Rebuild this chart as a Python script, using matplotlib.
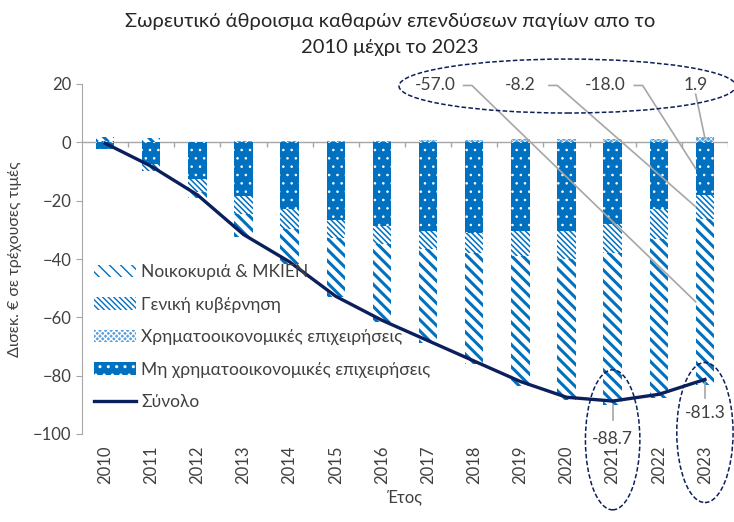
import matplotlib
matplotlib.use('Agg')
import matplotlib.pyplot as plt
import numpy as np
from matplotlib.patches import Ellipse

plt.rcParams['font.family'] = ['Lato', 'DejaVu Sans']

years = [str(y) for y in range(2010, 2024)]
households = [1.4, 1.4, -2.2, -7.6, -12.0, -20.4, -26.6, -32.3, -38.0, -44.4, -48.5, -51.9, -54.5, -57.0]
government = [0.3, -2.4, -4.3, -6.3, -7.0, -6.2, -6.4, -6.0, -7.0, -8.5, -9.5, -10.0, -10.0, -8.2]
financial = [0.2, 0.1, 0.2, 0.5, 0.5, 0.5, 0.6, 0.7, 0.9, 1.2, 1.2, 1.2, 1.2, 1.9]
nonfinancial = [-2.2, -7.3, -12.6, -18.4, -22.7, -26.5, -28.6, -30.4, -31.0, -30.5, -30.5, -28.0, -23.0, -18.0]
total = [-0.3, -8.2, -18.0, -31.6, -41.0, -52.8, -61.0, -68.0, -75.0, -82.0, -87.4, -88.7, -86.4, -81.3]

labels = ['Νοικοκυριά & ΜΚΙΕΝ', 'Γενική κυβέρνηση', 'Χρηματοοικονομικές επιχειρήσεις',
          'Μη χρηματοοικονομικές επιχειρήσεις', 'Σύνολο']

BLUE = '#0070C0'
NAVY = '#0B1F5C'
GRAY = '#A6A6A6'
TXT = '#404040'

fig = plt.figure(figsize=(7.34, 5.22), dpi=100)
ax = fig.add_axes([82/734, 1-434/522, (728-82)/734, (434-84)/522])

x = np.arange(len(years))
w = 0.4

# stacking order from zero outward: NF, Fin, Gov, HH
series = {
    'nf': np.array(nonfinancial),
    'fin': np.array(financial),
    'gov': np.array(government),
    'hh': np.array(households),
}
styles = {
    'nf': dict(facecolor=BLUE, edgecolor='white', hatch='..', hlw=0.6),
    'fin': dict(facecolor='#5AA0DC', edgecolor='white', hatch='xxxxxx', hlw=0.5),
    'gov': dict(facecolor='white', edgecolor=BLUE, hatch='\\' * 6, hlw=1.1),
    'hh': dict(facecolor='white', edgecolor=BLUE, hatch='\\' * 3, hlw=2.2),
}
pos = np.zeros(len(x))
neg = np.zeros(len(x))
bars = {}
bottoms = {}
for key in ['nf', 'fin', 'gov', 'hh']:
    v = series[key]
    b = np.where(v >= 0, pos, neg)
    st = styles[key]
    with plt.rc_context({'hatch.linewidth': st['hlw']}):
        bc = ax.bar(x, v, w, bottom=b, facecolor=st['facecolor'], edgecolor=st['edgecolor'],
                    hatch=st['hatch'], linewidth=0, zorder=2)
    bars[key] = bc
    bottoms[key] = b
    pos = np.where(v >= 0, pos + v, pos)
    neg = np.where(v < 0, neg + v, neg)

line, = ax.plot(x, total, color=NAVY, lw=2.4, zorder=4)

ax.set_xlim(-0.5, 13.5)
ax.set_ylim(-100, 20)
ax.set_yticks(np.arange(-100, 21, 20))
ax.tick_params(axis='y', colors=GRAY, labelcolor=TXT, labelsize=12, length=4, width=0.8)
ax.set_xticks(x)
ax.set_xticklabels(years, rotation=90, fontsize=12, color=TXT)
ax.tick_params(axis='x', length=0, pad=8)
for s in ['top', 'right', 'bottom']:
    ax.spines[s].set_visible(False)
ax.spines['left'].set_color(GRAY)
ax.axhline(0, color=GRAY, lw=1, zorder=1)
ax.vlines(x[:-1] + 0.5, -1.6, 0, color=GRAY, lw=1, zorder=1)
ax.vlines([13.5], -1.6, 0, color=GRAY, lw=1, zorder=1)

ax.set_ylabel('Δισεκ. € σε τρέχουσες τιμές', fontsize=11.5, color=TXT, labelpad=8)
ax.set_xlabel('Έτος', fontsize=12, color=TXT, labelpad=4)

fig.text(390/734, 1-22/522, 'Σωρευτικό άθροισμα καθαρών επενδύσεων παγίων απο το',
         ha='center', va='center', fontsize=14.5, color='#262626')
fig.text(390/734, 1-47/522, '2010 μέχρι το 2023', ha='center', va='center',
         fontsize=14.5, color='#262626')

leg = ax.legend([bars['hh'], bars['gov'], bars['fin'], bars['nf'], line], labels,
                loc='upper left', bbox_to_anchor=(0.0, 0.52), frameon=False,
                fontsize=12.5, labelspacing=0.95, handlelength=2.4, handletextpad=0.3,
                borderaxespad=0.3)
for t in leg.get_texts():
    t.set_color(TXT)

# 2023 component labels with leader lines
i = 13
lab_x = [7.15, 9.0, 10.85, 12.8]
comp_keys = ['hh', 'gov', 'nf', 'fin']
for lx, key in zip(lab_x, comp_keys):
    v = series[key][i]
    mid = bottoms[key][i] + v / 2
    ax.text(lx, 19.5, f'{v:.1f}', ha='center', va='center', fontsize=12.5, color=TXT,
            zorder=6, clip_on=False)
    if key == 'fin':
        ax.plot([lx, x[i]], [16.5, pos[i] - 0.5], color=GRAY, lw=1.2, zorder=5, clip_on=False)
    else:
        ax.plot([lx + 0.62, lx + 0.8, x[i] - w / 2], [19.5, 19.5, mid], color=GRAY, lw=1.2,
                zorder=5, clip_on=False)

ax.add_patch(Ellipse((10.02, 19.3), 7.3, 18.5, fill=False, ls=(0, (3, 1.5)), lw=1.1,
                     edgecolor=NAVY, clip_on=False, zorder=6))

# total labels 2021 and 2023
for i, dy in [(11, -13), (13, -11.5)]:
    ax.plot([x[i], x[i]], [total[i] - 1.2, total[i] - 6.5], color=GRAY, lw=1.2, zorder=5,
            clip_on=False)
    ax.text(x[i], total[i] + dy, f'{total[i]:.1f}', ha='center', va='center', fontsize=12.5,
            color=TXT, zorder=6, clip_on=False)
ax.add_patch(Ellipse((11.0, -102.0), 1.18, 48, fill=False, ls=(0, (3, 1.5)), lw=1.1,
                     edgecolor=NAVY, clip_on=False, zorder=6))
ax.add_patch(Ellipse((13.0, -99.5), 1.22, 48, fill=False, ls=(0, (3, 1.5)), lw=1.1,
                     edgecolor=NAVY, clip_on=False, zorder=6))

fig.savefig('out.png', dpi=100)
